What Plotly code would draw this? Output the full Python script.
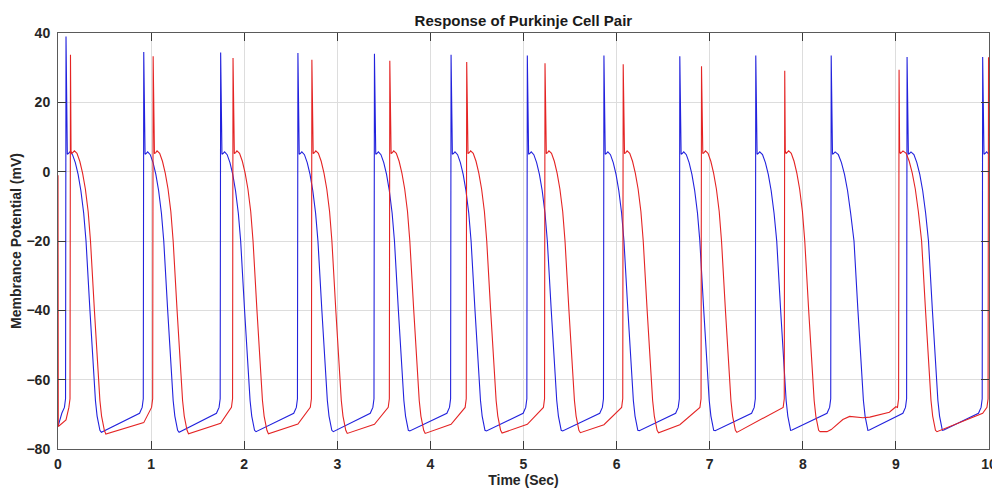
import plotly.graph_objects as go

# ---------------- data ----------------
# Cell 1 (blue)
blue_spike_t = [0.086, 0.921, 1.747, 2.577, 3.399, 4.222, 5.041, 5.864, 6.679, 7.495, 8.305, 9.120, 9.932]
blue_peak = [39.0, 34.5, 34.4, 34.2, 34.0, 33.7, 33.5, 33.5, 33.3, 33.5, 33.5, 33.1, 33.1]
blue_apd60 = [0.30, 0.30, 0.30, 0.30, 0.30, 0.30, 0.30, 0.30, 0.30, 0.31, 0.33, 0.315]
blue_trough = [-75.2, -75.2, -75.0, -75.0, -74.8, -74.8, -74.8, -74.7, -74.7, -74.5, -74.5, -74.5]
blue_start_v = -73.5

# Cell 2 (red)
red_spike_t = [0.134, 1.022, 1.880, 2.727, 3.564, 4.390, 5.231, 6.071, 6.912, 7.806, 9.034, 9.995]
red_peak = [33.7, 33.3, 32.8, 32.3, 32.0, 31.6, 31.3, 31.0, 30.4, 29.1, 29.4, 33.0]
red_apd60 = [0.30, 0.30, 0.30, 0.30, 0.30, 0.30, 0.30, 0.30, 0.30, 0.30, 0.327]
red_trough = [-75.7, -75.6, -75.6, -75.5, -75.5, -75.4, -75.3, -75.3, -75.2, -75.0, -75.0]
red_kink_v = [-71.6, -72.4, -72.6, -72.8, -72.9, -72.9, -72.9, -73.0, -73.0, None, None, -69.7]
red_start_v = [-1.0, -73.5]
# slow wave of cell 2 between its 10th and 11th spikes
red_wave_t = [8.26, 8.305, 8.36, 8.43, 8.503, 8.58, 8.646, 8.72, 8.79, 8.93, 9.0]
red_wave_v = [-75.0, -74.4, -73.2, -71.5, -70.6, -70.7, -71.0, -70.8, -70.3, -69.4, -67.8]

# action-potential shape (plateau & repolarisation), read from one beat
plat_rel_t = [0.006, 0.014, 0.028, 0.042, 0.07, 0.10, 0.13, 0.16, 0.19]
blue_plat_v = [5.6, 5.0, 5.3, 5.7, 4.9, 2.6, -0.8, -5.5, -12.0]
red_plat_v = [6.0, 5.2, 5.5, 6.0, 5.3, 3.0, -0.4, -5.0, -11.5]
down_rel_t = [-0.085, -0.043, 0.0, 0.016, 0.034, 0.05, 0.064]
down_v = [-20.0, -40.0, -60.0, -66.0, -70.5, -73.3, -74.6]
trough_rel_t = 0.08
pre_rel_t = [0.045, 0.017, 0.005]
blue_pre_v = [-69.7, -68.0, -65.5]
red_pre_v = [-68.0, -65.5]

T_END = 10.0


def clip(ts, vs):
    out_t, out_v = [], []
    for i, (t, v) in enumerate(zip(ts, vs)):
        if t <= T_END:
            out_t.append(t)
            out_v.append(v)
        else:
            t0, v0 = ts[i - 1], vs[i - 1]
            out_t.append(T_END)
            out_v.append(v0 + (v - v0) * (T_END - t0) / (t - t0))
            break
    return out_t, out_v


def ap_points(ts, peak, apd, plat_v, trough):
    t, v = [ts], [peak]
    scale = apd / 0.30
    for rt, pv in zip(plat_rel_t, plat_v):
        t.append(ts + rt * (scale if rt > 0.05 else 1.0))
        v.append(pv)
    t60 = ts + apd
    for rt, dv in zip(down_rel_t, down_v):
        t.append(t60 + rt)
        v.append(dv)
    t.append(t60 + trough_rel_t)
    v.append(trough)
    return t, v


def build_blue():
    t, v = [0.0], [blue_start_v]
    n = len(blue_spike_t)
    for i in range(n):
        ts = blue_spike_t[i]
        for rt, pv in zip(pre_rel_t, blue_pre_v):
            t.append(ts - rt)
            v.append(pv)
        if i < len(blue_apd60):
            at, av = ap_points(ts, blue_peak[i], blue_apd60[i], blue_plat_v, blue_trough[i])
        else:
            at, av = [ts], [blue_peak[i]]
            for rt, pv in zip(plat_rel_t, blue_plat_v):
                at.append(ts + rt)
                av.append(pv)
        t += at
        v += av
    return clip(t, v)


def build_red():
    t, v = [0.0, 0.003], list(red_start_v)
    n = len(red_spike_t)
    for i in range(n):
        ts = red_spike_t[i]
        prev_t = t[-1]
        if red_kink_v[i] is None:
            if i == 10:
                t += red_wave_t
                v += red_wave_v
        else:
            kinks = [b for b in blue_spike_t if prev_t < b < ts - 0.02]
            if kinks:
                t.append(kinks[0])
                v.append(red_kink_v[i])
        for rt, pv in zip(pre_rel_t[1:], red_pre_v):
            t.append(ts - rt)
            v.append(pv)
        if i < len(red_apd60):
            at, av = ap_points(ts, red_peak[i], red_apd60[i], red_plat_v, red_trough[i])
        else:
            at, av = [ts], [red_peak[i]]
            for rt, pv in zip(plat_rel_t, red_plat_v):
                at.append(ts + rt)
                av.append(pv)
        t += at
        v += av
    return clip(t, v)


bt, bv = build_blue()
rt_, rv = build_red()

fig = go.Figure()
fig.add_trace(go.Scatter(x=bt, y=bv, mode="lines", line=dict(color="#2222dd", width=1.1),
                         name="Cell 1", showlegend=False))
fig.add_trace(go.Scatter(x=rt_, y=rv, mode="lines", line=dict(color="#e42424", width=1.1),
                         name="Cell 2", showlegend=False))

font_family = "Liberation Sans, Arial, Helvetica, sans-serif"
axis_common = dict(
    showline=True, linecolor="#5a5a5a", linewidth=1, mirror="ticks",
    ticks="inside", ticklen=8, tickwidth=1, tickcolor="#3a3a3a",
    showgrid=True, gridcolor="#dddddd", gridwidth=1, zeroline=False,
    automargin=False,
    tickfont=dict(family=font_family, size=14, color="#262626", weight="bold"),
)

# the page body adds an 8 px offset, so the figure is 992 x 480
FIG_W, FIG_H = 992, 480
fig.update_layout(
    width=FIG_W, height=FIG_H,
    margin=dict(l=50, r=11, t=25, b=39),
    paper_bgcolor="white", plot_bgcolor="white",
    title=dict(text="Response of Purkinje Cell Pair", x=(523.4 - 8) / FIG_W, xanchor="center",
               y=1 - 13 / FIG_H, yanchor="middle", yref="container", automargin=False,
               font=dict(family=font_family, size=15, color="#1a1a1a", weight="bold")),
    xaxis=dict(range=[0, 10], dtick=1, tick0=0,
               title=dict(text="Time (Sec)", standoff=2,
                          font=dict(family=font_family, size=14, color="#262626", weight="bold")),
               ticklabelstandoff=2, **axis_common),
    yaxis=dict(range=[-80, 40], dtick=20, tick0=-80,
               title=dict(text="Membrance Potential (mV)", standoff=8,
                          font=dict(family=font_family, size=14, color="#262626", weight="bold")),
               ticklabelstandoff=4, **axis_common),
)

fig.write_html("out.html")
